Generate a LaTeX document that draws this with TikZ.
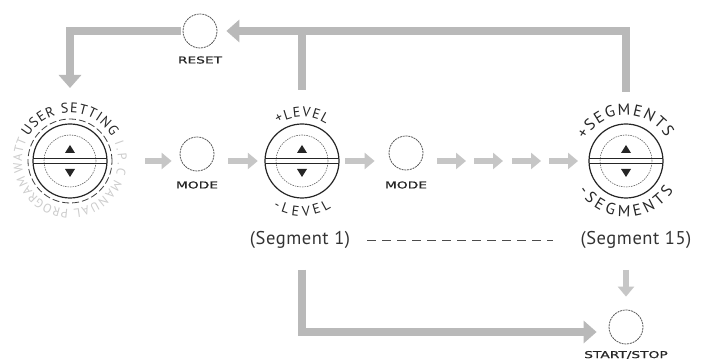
\documentclass[tikz,border=0pt]{standalone}
\usepackage{fontspec}
\setmainfont{PT Sans}
\newfontfamily\btnfont[FakeStretch=1.45,FakeBold=0.8]{DejaVu Sans}
\newfontfamily\segfamily[LetterSpace=3]{PT Sans}
\usetikzlibrary{arrows.meta,decorations.text}
\newcommand\knobfont{\fontsize{14}{14}\selectfont}
\newcommand\segsfont{\fontsize{16}{16}\selectfont}
\newcommand\userfont{\fontsize{14}{14}\selectfont}
\newcommand\grayfont{\fontsize{12.5}{12.5}\selectfont}
\tikzset{
  bigarr/.style={draw=gray!55, line width=8pt, -{Triangle[width=22pt,length=13pt]}},
  bigbar/.style={draw=gray!55, line width=8pt},
  smallarr/.style={draw=gray!45, line width=6.5pt, -{Triangle[width=16pt,length=10pt]}},
  button/.style={circle, minimum size=34pt, inner sep=0pt, draw=black!65, line width=0.8pt, dash pattern=on 2pt off 0.8pt},
  btnlabel/.style={font=\btnfont\fontsize{9.5}{9.5}\selectfont, text=black!85, inner sep=0pt},
  seglabel/.style={font=\segfamily\fontsize{18.5}{18.5}\selectfont, text=black!80, inner sep=0pt},
  knobhub/.style={circle, minimum size=74pt, inner sep=0pt},
  curved/.style={decorate, decoration={text along path, text align={fit to path}, text={#1}}},
  knobface/.pic={
    \draw[black!85, line width=1.2pt] (0,0) circle (37pt);
    \draw[black!60, line width=0.6pt, dash pattern=on 1.5pt off 1pt] (0,0) circle (26pt);
    \draw[black!85, line width=1pt] (-36.9pt,2.3pt) -- (36.9pt,2.3pt) (-36.9pt,-2.3pt) -- (36.9pt,-2.3pt);
    \fill[black!85] (-5pt,8pt) -- (5pt,8pt) -- (0pt,16pt) -- cycle;
    \fill[black!85] (-5pt,-8pt) -- (5pt,-8pt) -- (0pt,-16pt) -- cycle;
  }
}
\begin{document}
\begin{tikzpicture}[x=1pt,y=1pt]
\fill[white] (0,0) rectangle (707,363);
\useasboundingbox (0,0) rectangle (707,363);

% knobs
\node[knobhub] (K0) at (70,202) {};
\node[knobhub] (K1) at (302,202) {};
\node[knobhub] (K2) at (626,202) {};
\pic at (K0) {knobface};
\pic at (K1) {knobface};
\pic at (K2) {knobface};
\draw[black!75, line width=0.8pt, dash pattern=on 7pt off 3pt] (K0) circle (42pt);

% buttons
\node[button] (R) at (200,332) {};
\node[button] (M1) at (197,209) {};
\node[button] (M2) at (406,210) {};
\node[button] (S) at (626,36) {};
\node[btnlabel] (Rl) at (200,303) {RESET};
\node[btnlabel] (M1l) at (197,178) {MODE};
\node[btnlabel] (M2l) at (406,178) {MODE};
\node[btnlabel] (Sl) at (626,8) {START/STOP};

% curved texts, left knob
\path[curved={|\userfont\color{black!85}|USER SETTING}] ([shift={(150:48pt)}]K0.center) arc[start angle=150, end angle=30, radius=48pt];
\path[curved={|\grayfont\color{gray!40}|I.P.C}] ([shift={(22:48pt)}]K0.center) arc[start angle=22, end angle=-16, radius=48pt];
\path[curved={|\grayfont\color{gray!40}|MANUAL}] ([shift={(-22:48pt)}]K0.center) arc[start angle=-22, end angle=-86, radius=48pt];
\path[curved={|\grayfont\color{gray!40}|PROGRAM}] ([shift={(-92:48pt)}]K0.center) arc[start angle=-92, end angle=-162, radius=48pt];
\path[curved={|\grayfont\color{gray!40}|WATT}] ([shift={(-166:48pt)}]K0.center) arc[start angle=-166, end angle=-206, radius=48pt];

% middle knob
\path[curved={|\knobfont\color{black!85}|+LEVEL}] ([shift={(123:44pt)}]K1.center) arc[start angle=123, end angle=57, radius=44pt];
\path[curved={|\knobfont\color{black!85}|-LEVEL}] ([shift={(238:55pt)}]K1.center) arc[start angle=238, end angle=302, radius=55pt];

% right knob
\path[curved={|\segsfont\color{black!85}|+SEGMENTS}] ([shift={(152:46pt)}]K2.center) arc[start angle=152, end angle=30, radius=46pt];
\path[curved={|\segsfont\color{black!85}|-SEGMENTS}] ([shift={(212:56pt)}]K2.center) arc[start angle=212, end angle=328, radius=56pt];

% segment labels
\node[seglabel] (seg1) at (300,123) {(Segment 1)};
\node[seglabel] (seg15) at (636,123) {(Segment 15)};
\draw[black!70, line width=0.8pt, dash pattern=on 9pt off 6pt, shorten <=17pt, shorten >=27pt] (seg1.east) -- (seg15.west);

% row arrows
\draw[smallarr, shorten <=38pt, shorten >=8pt] (K0.east) -- (K0.east -| M1.west);
\draw[smallarr, shorten <=14pt, shorten >=7pt] (M1.east |- K1.west) -- (K1.west);
\draw[smallarr, shorten <=6pt, shorten >=14pt] (K1.east) -- (K1.east -| M2.west);
\foreach \x [count=\i] in {437,474,512,549} {
  \coordinate (p\i) at (\x,202);
  \coordinate (q\i) at (\x+29,202);
  \draw[smallarr] (p\i) -- (q\i);
}

% loop arrows
\draw[bigbar] ([yshift=71pt]K1.center) -- (K1 |- R);
\draw[bigarr, shorten >=9pt] ([yshift=69pt]K2.center) |- (R.east);
\draw[bigarr, shorten <=2pt] (R.west) -| ([yshift=73pt]K0.center);
\draw[bigarr, shorten >=12pt] ([yshift=-109pt]K1.center) |- ([yshift=-5pt]S.west);
\draw[smallarr, shorten >=13pt] ([yshift=57pt]S.center) -- (S.north);
\end{tikzpicture}
\end{document}
